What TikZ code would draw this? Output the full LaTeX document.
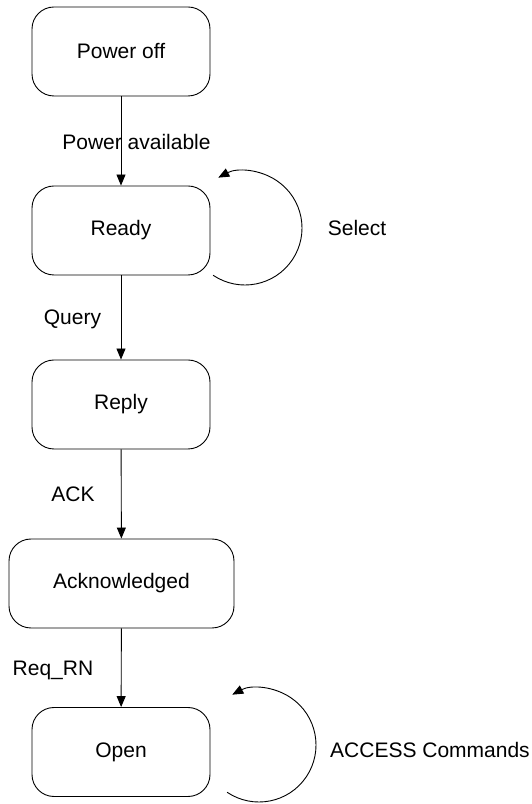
\documentclass[tikz,border=0pt]{standalone}
\usepackage{fontspec}
\setmainfont{Liberation Sans}
\usetikzlibrary{arrows.meta}
\begin{document}
\begin{tikzpicture}[x=1pt,y=1pt,
  font=\fontsize{21}{25}\selectfont,
  line width=0.9pt,
  state/.style={draw, rounded corners=22pt, minimum width=178pt, minimum height=89pt, inner sep=0pt},
  trans/.style={-{Triangle[length=11pt,width=9pt]}},
  lbl/.style={inner sep=0pt}]
\useasboundingbox (0,0) rectangle (532,804);
\node[state] (off) at (121,752.5) {Power off};
\node[state] (ready) at (121,573.5) {Ready};
\node[state] (reply) at (121,399.5) {Reply};
\node[state, minimum width=225pt] (ack) at (121.5,220.5) {Acknowledged};
\node[state] (open) at (121,52) {Open};

\draw[trans] (off) -- (ready);
\draw[trans] (ready) -- (reply);
\draw[trans] (reply) -- (ack);
\draw[trans] (ack) -- (open);

\node[lbl] (lpa) at (136.5,662) {Power available};
\node[lbl] (lq) at (72.5,485) {Query};
\node[lbl] (lack) at (73,310) {ACK};
\node[lbl] (lreq) at (53,134) {Req\_RN};
\node[lbl] (lsel) at (357,576) {Select};
\node[lbl] (lacc) at (430,54) {ACCESS Commands};

\coordinate (rc) at (245,576);
\coordinate (oc) at (259,59);
\draw[trans] ([shift={(-124:57)}]rc) arc[start angle=-124, end angle=118, radius=57];
\draw[trans] ([shift={(-124:57)}]oc) arc[start angle=-124, end angle=118, radius=57];
\end{tikzpicture}
\end{document}
